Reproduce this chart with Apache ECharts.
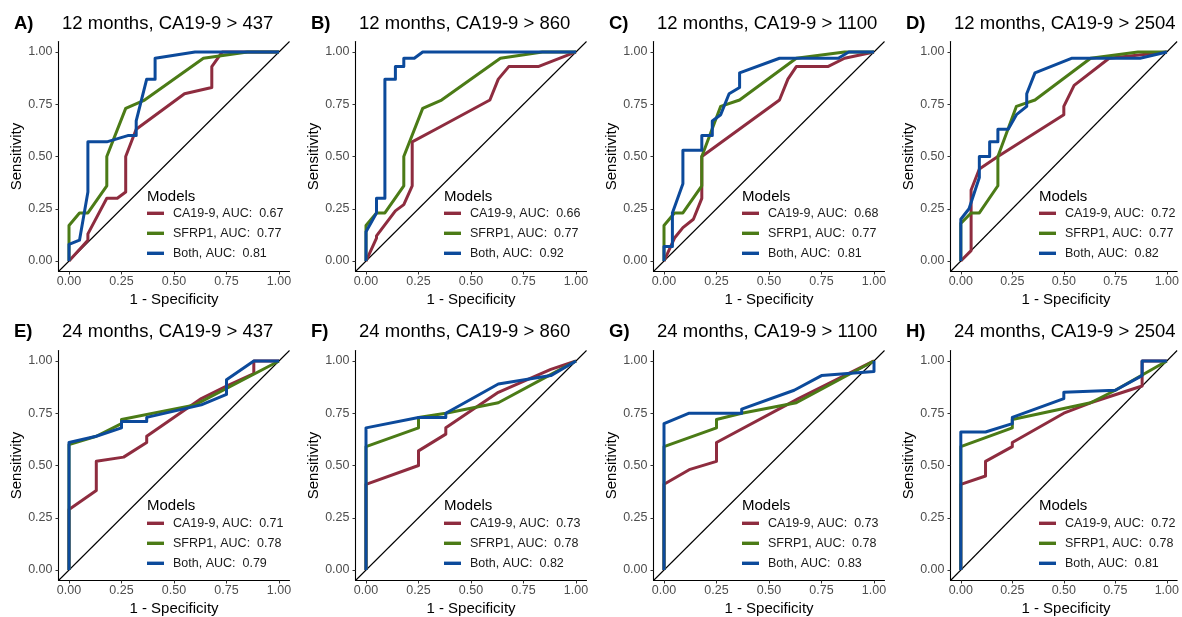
<!DOCTYPE html>
<html>
<head>
<meta charset="utf-8">
<script src="https://cdn.jsdelivr.net/npm/echarts@6/dist/echarts.min.js"></script>
<style>html,body{margin:0;padding:0;background:#fff}#c{width:1182px;height:617px}</style>
</head>
<body>
<div id="c"></div>
<script>
// ---- data ----
const panelLetters = ['A)','B)','C)','D)','E)','F)','G)','H)'];
const panelTitles = ['12 months, CA19-9 > 437','12 months, CA19-9 > 860','12 months, CA19-9 > 1100','12 months, CA19-9 > 2504',
                     '24 months, CA19-9 > 437','24 months, CA19-9 > 860','24 months, CA19-9 > 1100','24 months, CA19-9 > 2504'];
const aucCA = [0.67,0.66,0.68,0.72,0.71,0.73,0.73,0.72];
const aucSF = [0.77,0.77,0.77,0.77,0.78,0.78,0.78,0.78];
const aucBoth = [0.81,0.92,0.81,0.82,0.79,0.82,0.83,0.81];
const axisTicks = [0,0.25,0.5,0.75,1];

// [1 - specificity, sensitivity]
const caA = [[0,0],[0.09,0.1],[0.09,0.13],[0.18,0.3],[0.23,0.3],[0.27,0.33],[0.27,0.5],[0.32,0.63],[0.55,0.8],[0.68,0.83],[0.68,0.93],[0.73,1],[1,1]];
const sfA = [[0,0],[0,0.17],[0.05,0.23],[0.09,0.23],[0.18,0.36],[0.18,0.5],[0.27,0.73],[0.36,0.77],[0.64,0.97],[0.85,1],[1,1]];
const boA = [[0,0],[0,0.08],[0.05,0.1],[0.09,0.33],[0.09,0.57],[0.18,0.57],[0.28,0.6],[0.32,0.6],[0.32,0.67],[0.37,0.87],[0.41,0.87],[0.41,0.97],[0.6,1],[1,1]];

const caB = [[0,0],[0.05,0.11],[0.05,0.12],[0.14,0.24],[0.18,0.27],[0.22,0.36],[0.22,0.57],[0.35,0.64],[0.59,0.77],[0.63,0.87],[0.68,0.93],[0.82,0.93],[1,1]];
const sfB = [[0,0],[0,0.17],[0.05,0.23],[0.09,0.23],[0.18,0.36],[0.18,0.5],[0.27,0.73],[0.36,0.77],[0.64,0.97],[0.84,1],[1,1]];
const boB = [[0,0],[0,0.14],[0.05,0.23],[0.05,0.3],[0.09,0.3],[0.09,0.87],[0.14,0.87],[0.14,0.93],[0.18,0.93],[0.18,0.97],[0.23,0.97],[0.27,1],[1,1]];

const caC = [[0,0],[0.05,0.11],[0.09,0.16],[0.14,0.2],[0.18,0.3],[0.18,0.5],[0.55,0.77],[0.59,0.87],[0.63,0.93],[0.78,0.93],[0.86,0.97],[1,1]];
const sfC = [[0,0],[0,0.17],[0.05,0.23],[0.09,0.23],[0.18,0.36],[0.18,0.5],[0.27,0.74],[0.36,0.77],[0.63,0.97],[0.86,1],[1,1]];
const boC = [[0,0],[0,0.07],[0.04,0.07],[0.04,0.23],[0.09,0.37],[0.09,0.53],[0.18,0.53],[0.18,0.6],[0.23,0.6],[0.23,0.67],[0.27,0.7],[0.31,0.8],[0.36,0.83],[0.36,0.9],[0.55,0.97],[0.83,0.97],[0.88,1],[1,1]];

const caD = [[0,0],[0.05,0.05],[0.05,0.34],[0.09,0.44],[0.18,0.5],[0.5,0.7],[0.5,0.74],[0.55,0.84],[0.72,0.97],[1,1]];
const sfD = [[0,0],[0,0.18],[0.05,0.23],[0.09,0.23],[0.18,0.36],[0.18,0.5],[0.27,0.74],[0.36,0.77],[0.63,0.97],[0.86,1],[1,1]];
const boD = [[0,0],[0,0.2],[0.04,0.25],[0.09,0.4],[0.09,0.5],[0.14,0.5],[0.14,0.57],[0.18,0.57],[0.18,0.63],[0.23,0.63],[0.27,0.7],[0.32,0.74],[0.32,0.8],[0.36,0.9],[0.54,0.97],[0.87,0.97],[1,1]];

const caE = [[0,0],[0,0.29],[0.13,0.38],[0.13,0.52],[0.26,0.54],[0.37,0.61],[0.37,0.64],[0.63,0.82],[0.75,0.88],[0.88,0.94],[0.88,1],[1,1]];
const sfE = [[0,0],[0,0.6],[0.13,0.64],[0.25,0.7],[0.25,0.72],[0.6,0.79],[1,1]];
const boE = [[0,0],[0,0.61],[0.13,0.64],[0.25,0.68],[0.25,0.71],[0.37,0.71],[0.37,0.73],[0.63,0.79],[0.75,0.84],[0.75,0.91],[0.88,1],[1,1]];

const caF = [[0,0],[0,0.41],[0.25,0.5],[0.25,0.57],[0.38,0.65],[0.38,0.68],[0.63,0.85],[0.88,0.96],[1,1]];
const sfF = [[0,0],[0,0.59],[0.25,0.68],[0.25,0.73],[0.38,0.75],[0.63,0.8],[0.87,0.93],[1,1]];
const boF = [[0,0],[0,0.68],[0.25,0.73],[0.38,0.73],[0.38,0.75],[0.63,0.89],[0.88,0.93],[1,1]];

const caG = [[0,0],[0,0.41],[0.12,0.48],[0.25,0.52],[0.25,0.61],[0.64,0.82],[1,1]];
const sfG = [[0,0],[0,0.59],[0.25,0.68],[0.25,0.72],[0.37,0.75],[0.63,0.8],[1,1]];
const boG = [[0,0],[0,0.7],[0.12,0.75],[0.37,0.75],[0.37,0.77],[0.62,0.86],[0.75,0.93],[1,0.95],[1,1]];

const caH = [[0,0],[0,0.41],[0.12,0.45],[0.12,0.52],[0.25,0.59],[0.25,0.61],[0.5,0.75],[0.63,0.8],[0.88,0.88],[0.88,1],[1,1]];
const sfH = [[0,0],[0,0.59],[0.25,0.68],[0.25,0.72],[0.63,0.8],[0.75,0.86],[1,1]];
const boH = [[0,0],[0,0.66],[0.12,0.66],[0.25,0.7],[0.25,0.73],[0.5,0.82],[0.5,0.85],[0.75,0.86],[0.88,0.93],[0.88,1],[1,1]];

const caCurves = [caA,caB,caC,caD,caE,caF,caG,caH];
const sfCurves = [sfA,sfB,sfC,sfD,sfE,sfF,sfG,sfH];
const boCurves = [boA,boB,boC,boD,boE,boF,boG,boH];

// ---- layout / style ----
const COL_RED = '#8E2C3F', COL_GREEN = '#4B7B16', COL_BLUE = '#0C4A9B';
const FONT = '"Liberation Sans", Arial, sans-serif';
const colLeft = [58.5, 355.5, 653.5, 950.5];
const rowTop = [41.5, 350.5];
const gridW = 231, gridH = 230;

const grids = [], xAxes = [], yAxes = [], series = [], legends = [], graphics = [];
for (let p = 0; p < 8; p++) {
  const c = p % 4, r = Math.floor(p / 4);
  const L = colLeft[c], T = rowTop[r];
  grids.push({left: L, top: T, width: gridW, height: gridH});
  const axCommon = {
    min: -0.05, max: 1.05, gridIndex: p,
    axisLine: {show: true, onZero: false, lineStyle: {color: '#000', width: 1.1}},
    axisTick: {show: true, length: 3, customValues: axisTicks, lineStyle: {color: '#333', width: 1}},
    splitLine: {show: false},
  };
  xAxes.push(Object.assign({type: 'value', position: 'bottom',
    axisLabel: {customValues: axisTicks, formatter: v => v.toFixed(2), color: '#4D4D4D', fontSize: 12.5, fontFamily: FONT, margin: 4}}, axCommon));
  yAxes.push(Object.assign({type: 'value', position: 'left',
    axisLabel: {customValues: axisTicks, formatter: v => v.toFixed(2), color: '#4D4D4D', fontSize: 12.5, fontFamily: FONT, margin: 6}}, axCommon));

  series.push({type: 'line', name: 'diag' + p, xAxisIndex: p, yAxisIndex: p, data: [[-0.05,-0.05],[1.05,1.05]],
    showSymbol: false, silent: true, lineStyle: {color: '#000', width: 1.1}, z: 1});
  const nCA = 'CA19-9, AUC:  ' + aucCA[p].toFixed(2);
  const nSF = 'SFRP1, AUC:  ' + aucSF[p].toFixed(2);
  const nBO = 'Both, AUC:  ' + aucBoth[p].toFixed(2);
  [[nCA, caCurves[p], COL_RED],[nSF, sfCurves[p], COL_GREEN],[nBO, boCurves[p], COL_BLUE]].forEach((s, k) => {
    series.push({type: 'line', name: s[0], xAxisIndex: p, yAxisIndex: p, data: s[1], showSymbol: false, symbol: 'none',
      color: s[2], lineStyle: {color: s[2], width: 3, join: 'round', cap: 'butt'}, z: 2 + k, animation: false});
  });
  const legTopBase = r === 0 ? 206.3 : 516.3;
  legends.push({
    left: L + 88.5, top: legTopBase, orient: 'vertical', padding: 0, itemGap: 6, itemWidth: 17, itemHeight: 3.4,
    selectedMode: false,
    data: [{name: nCA, icon: 'rect', itemStyle: {color: COL_RED}},
           {name: nSF, icon: 'rect', itemStyle: {color: COL_GREEN}},
           {name: nBO, icon: 'rect', itemStyle: {color: COL_BLUE}}],
    textStyle: {fontSize: 12.5, color: '#1A1A1A', fontFamily: FONT, lineHeight: 14, padding: [0,0,0,4]}
  });
  // legend title
  graphics.push({type: 'text', x: L + 88.5, y: r === 0 ? 196.7 : 505.7,
    style: {text: 'Models', fontSize: 15, fontFamily: FONT, fill: '#000', align: 'left', verticalAlign: 'middle'}});
  // panel titles
  const tY = r === 0 ? 23.7 : 331.7;
  graphics.push({type: 'text', x: L - 44.5, y: tY,
    style: {text: panelLetters[p], fontSize: 18.5, fontWeight: 'bold', fontFamily: FONT, fill: '#000', align: 'left', verticalAlign: 'middle'}});
  graphics.push({type: 'text', x: L + 3.5, y: tY,
    style: {text: panelTitles[p], fontSize: 18.5, fontFamily: FONT, fill: '#000', align: 'left', verticalAlign: 'middle'}});
  // axis titles
  graphics.push({type: 'text', x: L + gridW / 2, y: r === 0 ? 300 : 609,
    style: {text: '1 - Specificity', fontSize: 15, fontFamily: FONT, fill: '#000', align: 'center', verticalAlign: 'middle'}});
  graphics.push({type: 'text', x: L - 42, y: T + gridH / 2, rotation: Math.PI / 2,
    style: {text: 'Sensitivity', fontSize: 15, fontFamily: FONT, fill: '#000', align: 'center', verticalAlign: 'middle'}});
}

const chart = echarts.init(document.getElementById('c'), null, {renderer: 'canvas'});
chart.setOption({
  animation: false,
  backgroundColor: '#fff',
  grid: grids, xAxis: xAxes, yAxis: yAxes, series: series, legend: legends,
  graphic: graphics
});
</script>
</body>
</html>
